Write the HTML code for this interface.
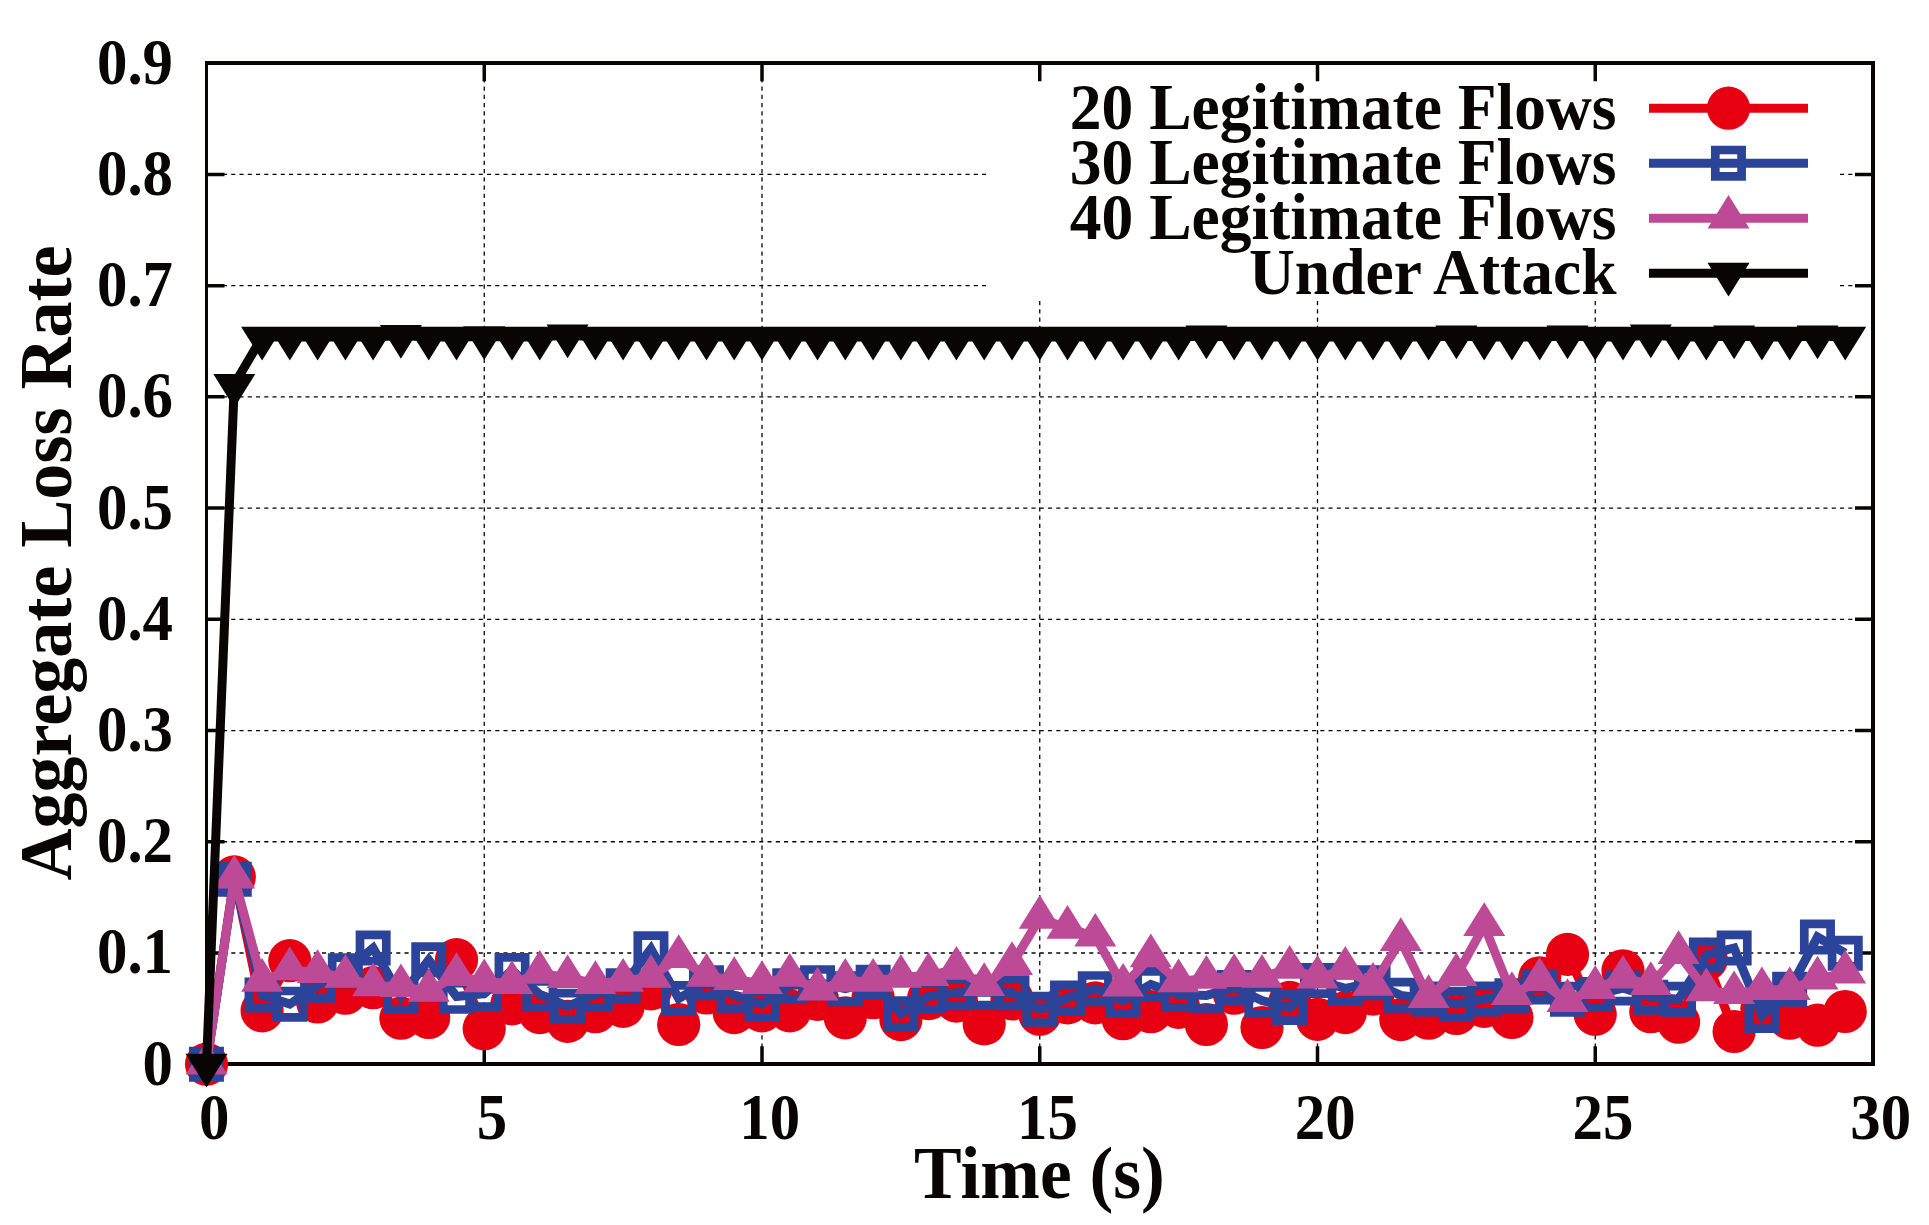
<!DOCTYPE html>
<html lang="en"><head><meta charset="utf-8"><title>Aggregate Loss Rate</title>
<style>html,body{margin:0;padding:0;background:#fff;overflow:hidden}svg{display:block}text{font-family:"Liberation Serif","Times New Roman",serif;font-weight:bold;fill:#0a0505}.tk{font-size:65px}.lg{font-size:66.5px}.ax{font-size:73.4px}</style></head><body>
<svg width="1929" height="1225" viewBox="0 0 1929 1225">
<rect width="1929" height="1225" fill="#fff"/>
<path d="M484.25 1064.20V63.20M762.00 1064.20V63.20M1039.75 1064.20V63.20M1317.50 1064.20V63.20M1595.25 1064.20V63.20M206.50 952.98H1873.00M206.50 841.76H1873.00M206.50 730.53H1873.00M206.50 619.31H1873.00M206.50 508.09H1873.00M206.50 396.87H1873.00M206.50 285.64H1873.00M206.50 174.42H1873.00" fill="none" stroke="#0a0505" stroke-width="1.3" stroke-dasharray="4.1 4.15"/>
<rect x="986.5" y="65.0" width="852.5" height="235.0" fill="#fff"/>
<path d="M484.25 1064.20v-18.00M484.25 63.20v18.00M762.00 1064.20v-18.00M762.00 63.20v18.00M1039.75 1064.20v-18.00M1039.75 63.20v18.00M1317.50 1064.20v-18.00M1317.50 63.20v18.00M1595.25 1064.20v-18.00M1595.25 63.20v18.00M206.50 952.98h18.00M1873.00 952.98h-18.00M206.50 841.76h18.00M1873.00 841.76h-18.00M206.50 730.53h18.00M1873.00 730.53h-18.00M206.50 619.31h18.00M1873.00 619.31h-18.00M206.50 508.09h18.00M1873.00 508.09h-18.00M206.50 396.87h18.00M1873.00 396.87h-18.00M206.50 285.64h18.00M1873.00 285.64h-18.00M206.50 174.42h18.00M1873.00 174.42h-18.00" fill="none" stroke="#0a0505" stroke-width="3.5"/>
<path fill="#0a0505" d="M205 61H1875V1066H205ZM208 65V1062H1871V65Z"/>
<text class="tk" transform="translate(173.0 1084.6) scale(0.936 1)" text-anchor="end">0</text>
<text class="tk" transform="translate(173.0 973.4) scale(0.936 1)" text-anchor="end">0.1</text>
<text class="tk" transform="translate(173.0 862.2) scale(0.936 1)" text-anchor="end">0.2</text>
<text class="tk" transform="translate(173.0 750.9) scale(0.936 1)" text-anchor="end">0.3</text>
<text class="tk" transform="translate(173.0 639.7) scale(0.936 1)" text-anchor="end">0.4</text>
<text class="tk" transform="translate(173.0 528.5) scale(0.936 1)" text-anchor="end">0.5</text>
<text class="tk" transform="translate(173.0 417.3) scale(0.936 1)" text-anchor="end">0.6</text>
<text class="tk" transform="translate(173.0 306.0) scale(0.936 1)" text-anchor="end">0.7</text>
<text class="tk" transform="translate(173.0 194.8) scale(0.936 1)" text-anchor="end">0.8</text>
<text class="tk" transform="translate(173.0 83.6) scale(0.936 1)" text-anchor="end">0.9</text>
<text class="tk" transform="translate(214.2 1139.0) scale(0.936 1)" text-anchor="middle">0</text>
<text class="tk" transform="translate(491.9 1139.0) scale(0.936 1)" text-anchor="middle">5</text>
<text class="tk" transform="translate(769.7 1139.0) scale(0.936 1)" text-anchor="middle">10</text>
<text class="tk" transform="translate(1047.5 1139.0) scale(0.936 1)" text-anchor="middle">15</text>
<text class="tk" transform="translate(1325.2 1139.0) scale(0.936 1)" text-anchor="middle">20</text>
<text class="tk" transform="translate(1603.0 1139.0) scale(0.936 1)" text-anchor="middle">25</text>
<text class="tk" transform="translate(1880.7 1139.0) scale(0.936 1)" text-anchor="middle">30</text>
<text class="ax" transform="translate(1039.5 1198.0) scale(0.974 1)" text-anchor="middle">Time (s)</text>
<text class="ax" transform="translate(71.0 563.0) rotate(-90) scale(0.982 1)" text-anchor="middle">Aggregate Loss Rate</text>
<polyline fill="none" stroke="#e60012" stroke-width="9.0" stroke-linejoin="miter" stroke-miterlimit="4" points="206.5,1064.2 234.3,876.9 262.1,1010.8 289.8,960.7 317.6,1002.0 345.4,993.2 373.1,987.7 400.9,1018.2 428.7,1017.5 456.5,959.7 484.2,1028.7 512.0,1003.8 539.8,1012.6 567.6,1021.4 595.4,1011.7 623.1,1006.4 650.9,988.9 678.7,1024.5 706.5,993.0 734.2,1012.6 762.0,1010.8 789.8,1010.8 817.5,999.4 845.3,1017.8 873.1,997.7 900.9,1019.6 928.6,998.6 956.4,1001.1 984.2,1023.9 1012.0,998.9 1039.8,1014.3 1067.5,1002.9 1095.3,1002.9 1123.1,1018.7 1150.8,1011.7 1178.6,1007.3 1206.4,1024.5 1234.2,993.2 1262.0,1027.5 1289.7,1002.4 1317.5,1019.3 1345.3,1012.6 1373.0,994.1 1400.8,1019.6 1428.6,1018.2 1456.4,1013.5 1484.2,1006.4 1511.9,1017.5 1539.7,977.8 1567.5,954.4 1595.2,1014.3 1623.0,970.8 1650.8,1011.7 1678.6,1022.2 1706.3,959.4 1734.1,1031.5 1761.9,1008.6 1789.7,1018.2 1817.5,1025.2 1845.2,1011.5"/>
<g fill="#e60012"><circle cx="206.5" cy="1064.2" r="21.6"/><circle cx="234.3" cy="876.9" r="21.6"/><circle cx="262.1" cy="1010.8" r="21.6"/><circle cx="289.8" cy="960.7" r="21.6"/><circle cx="317.6" cy="1002.0" r="21.6"/><circle cx="345.4" cy="993.2" r="21.6"/><circle cx="373.1" cy="987.7" r="21.6"/><circle cx="400.9" cy="1018.2" r="21.6"/><circle cx="428.7" cy="1017.5" r="21.6"/><circle cx="456.5" cy="959.7" r="21.6"/><circle cx="484.2" cy="1028.7" r="21.6"/><circle cx="512.0" cy="1003.8" r="21.6"/><circle cx="539.8" cy="1012.6" r="21.6"/><circle cx="567.6" cy="1021.4" r="21.6"/><circle cx="595.4" cy="1011.7" r="21.6"/><circle cx="623.1" cy="1006.4" r="21.6"/><circle cx="650.9" cy="988.9" r="21.6"/><circle cx="678.7" cy="1024.5" r="21.6"/><circle cx="706.5" cy="993.0" r="21.6"/><circle cx="734.2" cy="1012.6" r="21.6"/><circle cx="762.0" cy="1010.8" r="21.6"/><circle cx="789.8" cy="1010.8" r="21.6"/><circle cx="817.5" cy="999.4" r="21.6"/><circle cx="845.3" cy="1017.8" r="21.6"/><circle cx="873.1" cy="997.7" r="21.6"/><circle cx="900.9" cy="1019.6" r="21.6"/><circle cx="928.6" cy="998.6" r="21.6"/><circle cx="956.4" cy="1001.1" r="21.6"/><circle cx="984.2" cy="1023.9" r="21.6"/><circle cx="1012.0" cy="998.9" r="21.6"/><circle cx="1039.8" cy="1014.3" r="21.6"/><circle cx="1067.5" cy="1002.9" r="21.6"/><circle cx="1095.3" cy="1002.9" r="21.6"/><circle cx="1123.1" cy="1018.7" r="21.6"/><circle cx="1150.8" cy="1011.7" r="21.6"/><circle cx="1178.6" cy="1007.3" r="21.6"/><circle cx="1206.4" cy="1024.5" r="21.6"/><circle cx="1234.2" cy="993.2" r="21.6"/><circle cx="1262.0" cy="1027.5" r="21.6"/><circle cx="1289.7" cy="1002.4" r="21.6"/><circle cx="1317.5" cy="1019.3" r="21.6"/><circle cx="1345.3" cy="1012.6" r="21.6"/><circle cx="1373.0" cy="994.1" r="21.6"/><circle cx="1400.8" cy="1019.6" r="21.6"/><circle cx="1428.6" cy="1018.2" r="21.6"/><circle cx="1456.4" cy="1013.5" r="21.6"/><circle cx="1484.2" cy="1006.4" r="21.6"/><circle cx="1511.9" cy="1017.5" r="21.6"/><circle cx="1539.7" cy="977.8" r="21.6"/><circle cx="1567.5" cy="954.4" r="21.6"/><circle cx="1595.2" cy="1014.3" r="21.6"/><circle cx="1623.0" cy="970.8" r="21.6"/><circle cx="1650.8" cy="1011.7" r="21.6"/><circle cx="1678.6" cy="1022.2" r="21.6"/><circle cx="1706.3" cy="959.4" r="21.6"/><circle cx="1734.1" cy="1031.5" r="21.6"/><circle cx="1761.9" cy="1008.6" r="21.6"/><circle cx="1789.7" cy="1018.2" r="21.6"/><circle cx="1817.5" cy="1025.2" r="21.6"/><circle cx="1845.2" cy="1011.5" r="21.6"/></g>
<polyline fill="none" stroke="#2b4499" stroke-width="9.0" stroke-linejoin="miter" stroke-miterlimit="4" points="206.5,1064.2 234.3,879.1 262.1,995.0 289.8,1004.1 317.6,985.2 345.4,970.8 373.1,948.0 400.9,996.4 428.7,959.9 456.5,996.4 484.2,993.6 512.0,970.4 539.8,994.5 567.6,1006.3 595.4,994.5 623.1,985.7 650.9,948.9 678.7,998.5 706.5,982.7 734.2,995.4 762.0,1004.1 789.8,985.7 817.5,982.7 845.3,988.7 873.1,982.2 900.9,1013.8 928.6,996.4 956.4,992.7 984.2,991.9 1012.0,992.7 1039.8,1009.4 1067.5,998.0 1095.3,988.7 1123.1,1000.6 1150.8,984.5 1178.6,994.5 1206.4,995.4 1234.2,987.5 1262.0,1000.6 1289.7,1007.6 1317.5,980.4 1345.3,988.3 1373.0,982.7 1400.8,995.4 1428.6,998.9 1456.4,1004.1 1484.2,998.9 1511.9,995.7 1539.7,986.9 1567.5,999.2 1595.2,994.5 1623.0,988.0 1650.8,997.1 1678.6,999.2 1706.3,955.0 1734.1,948.0 1761.9,1015.5 1789.7,989.2 1817.5,937.1 1845.2,953.2"/>
<path fill="none" stroke="#2b4499" stroke-width="8.7" d="M193.3 1051.0h26.3v26.3h-26.3zM221.1 866.0h26.3v26.3h-26.3zM248.9 981.9h26.3v26.3h-26.3zM276.7 991.0h26.3v26.3h-26.3zM304.5 972.1h26.3v26.3h-26.3zM332.2 957.6h26.3v26.3h-26.3zM360.0 934.8h26.3v26.3h-26.3zM387.8 983.2h26.3v26.3h-26.3zM415.6 946.7h26.3v26.3h-26.3zM443.3 983.2h26.3v26.3h-26.3zM471.1 980.4h26.3v26.3h-26.3zM498.9 957.3h26.3v26.3h-26.3zM526.6 981.3h26.3v26.3h-26.3zM554.4 993.1h26.3v26.3h-26.3zM582.2 981.3h26.3v26.3h-26.3zM610.0 972.5h26.3v26.3h-26.3zM637.8 935.7h26.3v26.3h-26.3zM665.5 985.3h26.3v26.3h-26.3zM693.3 969.5h26.3v26.3h-26.3zM721.1 982.2h26.3v26.3h-26.3zM748.9 991.0h26.3v26.3h-26.3zM776.6 972.5h26.3v26.3h-26.3zM804.4 969.5h26.3v26.3h-26.3zM832.2 975.5h26.3v26.3h-26.3zM860.0 969.1h26.3v26.3h-26.3zM887.7 1000.7h26.3v26.3h-26.3zM915.5 983.2h26.3v26.3h-26.3zM943.3 979.5h26.3v26.3h-26.3zM971.1 978.8h26.3v26.3h-26.3zM998.8 979.5h26.3v26.3h-26.3zM1026.6 996.2h26.3v26.3h-26.3zM1054.4 984.9h26.3v26.3h-26.3zM1082.1 975.5h26.3v26.3h-26.3zM1109.9 987.4h26.3v26.3h-26.3zM1137.7 971.3h26.3v26.3h-26.3zM1165.5 981.3h26.3v26.3h-26.3zM1193.2 982.2h26.3v26.3h-26.3zM1221.0 974.3h26.3v26.3h-26.3zM1248.8 987.4h26.3v26.3h-26.3zM1276.6 994.4h26.3v26.3h-26.3zM1304.3 967.3h26.3v26.3h-26.3zM1332.1 975.2h26.3v26.3h-26.3zM1359.9 969.5h26.3v26.3h-26.3zM1387.7 982.2h26.3v26.3h-26.3zM1415.4 985.8h26.3v26.3h-26.3zM1443.2 991.0h26.3v26.3h-26.3zM1471.0 985.8h26.3v26.3h-26.3zM1498.8 982.5h26.3v26.3h-26.3zM1526.5 973.8h26.3v26.3h-26.3zM1554.3 986.1h26.3v26.3h-26.3zM1582.1 981.3h26.3v26.3h-26.3zM1609.9 974.9h26.3v26.3h-26.3zM1637.6 984.0h26.3v26.3h-26.3zM1665.4 986.1h26.3v26.3h-26.3zM1693.2 941.8h26.3v26.3h-26.3zM1721.0 934.8h26.3v26.3h-26.3zM1748.8 1002.3h26.3v26.3h-26.3zM1776.5 976.1h26.3v26.3h-26.3zM1804.3 923.9h26.3v26.3h-26.3zM1832.1 940.1h26.3v26.3h-26.3z"/>
<polyline fill="none" stroke="#bd4a96" stroke-width="9.0" stroke-linejoin="miter" stroke-miterlimit="4" points="206.5,1064.2 234.3,878.0 262.1,981.3 289.8,969.8 317.6,972.6 345.4,977.3 373.1,985.8 400.9,986.7 428.7,991.3 456.5,975.6 484.2,981.8 512.0,983.5 539.8,973.3 567.6,977.7 595.4,983.5 623.1,981.3 650.9,977.3 678.7,957.5 706.5,976.4 734.2,979.6 762.0,983.5 789.8,976.4 817.5,990.0 845.3,981.3 873.1,981.3 900.9,977.3 928.6,975.6 956.4,969.4 984.2,985.6 1012.0,964.5 1039.8,918.3 1067.5,928.3 1095.3,936.2 1123.1,986.2 1150.8,956.9 1178.6,981.8 1206.4,978.3 1234.2,976.6 1262.0,977.4 1289.7,968.3 1317.5,978.2 1345.3,969.4 1373.0,985.3 1400.8,940.5 1428.6,997.6 1456.4,975.7 1484.2,925.6 1511.9,994.5 1539.7,980.6 1567.5,1001.5 1595.2,988.5 1623.0,978.2 1650.8,984.5 1678.6,953.6 1706.3,990.9 1734.1,993.7 1761.9,989.7 1789.7,989.7 1817.5,979.1 1845.2,973.0"/>
<path fill="#bd4a96" d="M206.5 1040.9l21.0 33.7h-42.0zM234.3 854.7l21.0 33.7h-42.0zM262.1 958.0l21.0 33.7h-42.0zM289.8 946.5l21.0 33.7h-42.0zM317.6 949.3l21.0 33.7h-42.0zM345.4 954.0l21.0 33.7h-42.0zM373.1 962.5l21.0 33.7h-42.0zM400.9 963.4l21.0 33.7h-42.0zM428.7 968.0l21.0 33.7h-42.0zM456.5 952.3l21.0 33.7h-42.0zM484.2 958.5l21.0 33.7h-42.0zM512.0 960.2l21.0 33.7h-42.0zM539.8 950.0l21.0 33.7h-42.0zM567.6 954.4l21.0 33.7h-42.0zM595.4 960.2l21.0 33.7h-42.0zM623.1 958.0l21.0 33.7h-42.0zM650.9 954.0l21.0 33.7h-42.0zM678.7 934.2l21.0 33.7h-42.0zM706.5 953.1l21.0 33.7h-42.0zM734.2 956.3l21.0 33.7h-42.0zM762.0 960.2l21.0 33.7h-42.0zM789.8 953.1l21.0 33.7h-42.0zM817.5 966.7l21.0 33.7h-42.0zM845.3 958.0l21.0 33.7h-42.0zM873.1 958.0l21.0 33.7h-42.0zM900.9 954.0l21.0 33.7h-42.0zM928.6 952.3l21.0 33.7h-42.0zM956.4 946.1l21.0 33.7h-42.0zM984.2 962.3l21.0 33.7h-42.0zM1012.0 941.2l21.0 33.7h-42.0zM1039.8 895.0l21.0 33.7h-42.0zM1067.5 905.0l21.0 33.7h-42.0zM1095.3 912.9l21.0 33.7h-42.0zM1123.1 962.9l21.0 33.7h-42.0zM1150.8 933.6l21.0 33.7h-42.0zM1178.6 958.5l21.0 33.7h-42.0zM1206.4 955.0l21.0 33.7h-42.0zM1234.2 953.3l21.0 33.7h-42.0zM1262.0 954.1l21.0 33.7h-42.0zM1289.7 945.0l21.0 33.7h-42.0zM1317.5 954.9l21.0 33.7h-42.0zM1345.3 946.1l21.0 33.7h-42.0zM1373.0 962.0l21.0 33.7h-42.0zM1400.8 917.2l21.0 33.7h-42.0zM1428.6 974.3l21.0 33.7h-42.0zM1456.4 952.4l21.0 33.7h-42.0zM1484.2 902.3l21.0 33.7h-42.0zM1511.9 971.2l21.0 33.7h-42.0zM1539.7 957.3l21.0 33.7h-42.0zM1567.5 978.2l21.0 33.7h-42.0zM1595.2 965.2l21.0 33.7h-42.0zM1623.0 954.9l21.0 33.7h-42.0zM1650.8 961.2l21.0 33.7h-42.0zM1678.6 930.3l21.0 33.7h-42.0zM1706.3 967.6l21.0 33.7h-42.0zM1734.1 970.4l21.0 33.7h-42.0zM1761.9 966.4l21.0 33.7h-42.0zM1789.7 966.4l21.0 33.7h-42.0zM1817.5 955.8l21.0 33.7h-42.0zM1845.2 949.7l21.0 33.7h-42.0z"/>
<polyline fill="none" stroke="#0a0505" stroke-width="9.0" stroke-linejoin="miter" stroke-miterlimit="4" points="206.5,1064.2 234.3,384.4 262.1,337.1 289.8,337.1 317.6,337.1 345.4,337.1 373.1,337.1 400.9,335.5 428.7,337.1 456.5,337.1 484.2,336.6 512.0,337.1 539.8,337.1 567.6,334.9 595.4,337.1 623.1,337.1 650.9,337.1 678.7,337.1 706.5,337.1 734.2,337.1 762.0,337.1 789.8,337.1 817.5,337.1 845.3,337.1 873.1,337.1 900.9,337.1 928.6,337.1 956.4,337.1 984.2,337.1 1012.0,337.1 1039.8,337.1 1067.5,337.1 1095.3,337.1 1123.1,337.1 1150.8,337.1 1178.6,337.1 1206.4,336.0 1234.2,337.1 1262.0,337.1 1289.7,337.1 1317.5,337.1 1345.3,337.1 1373.0,337.1 1400.8,337.1 1428.6,337.1 1456.4,336.0 1484.2,337.1 1511.9,337.1 1539.7,337.1 1567.5,336.0 1595.2,337.1 1623.0,337.1 1650.8,334.9 1678.6,337.1 1706.3,337.1 1734.1,336.0 1761.9,337.1 1789.7,337.1 1817.5,336.0 1845.2,337.1"/>
<path fill="#0a0505" d="M206.5 1087.5l21.0 -33.7h-42.0zM234.3 407.7l21.0 -33.7h-42.0zM262.1 360.4l21.0 -33.7h-42.0zM289.8 360.4l21.0 -33.7h-42.0zM317.6 360.4l21.0 -33.7h-42.0zM345.4 360.4l21.0 -33.7h-42.0zM373.1 360.4l21.0 -33.7h-42.0zM400.9 358.8l21.0 -33.7h-42.0zM428.7 360.4l21.0 -33.7h-42.0zM456.5 360.4l21.0 -33.7h-42.0zM484.2 359.9l21.0 -33.7h-42.0zM512.0 360.4l21.0 -33.7h-42.0zM539.8 360.4l21.0 -33.7h-42.0zM567.6 358.2l21.0 -33.7h-42.0zM595.4 360.4l21.0 -33.7h-42.0zM623.1 360.4l21.0 -33.7h-42.0zM650.9 360.4l21.0 -33.7h-42.0zM678.7 360.4l21.0 -33.7h-42.0zM706.5 360.4l21.0 -33.7h-42.0zM734.2 360.4l21.0 -33.7h-42.0zM762.0 360.4l21.0 -33.7h-42.0zM789.8 360.4l21.0 -33.7h-42.0zM817.5 360.4l21.0 -33.7h-42.0zM845.3 360.4l21.0 -33.7h-42.0zM873.1 360.4l21.0 -33.7h-42.0zM900.9 360.4l21.0 -33.7h-42.0zM928.6 360.4l21.0 -33.7h-42.0zM956.4 360.4l21.0 -33.7h-42.0zM984.2 360.4l21.0 -33.7h-42.0zM1012.0 360.4l21.0 -33.7h-42.0zM1039.8 360.4l21.0 -33.7h-42.0zM1067.5 360.4l21.0 -33.7h-42.0zM1095.3 360.4l21.0 -33.7h-42.0zM1123.1 360.4l21.0 -33.7h-42.0zM1150.8 360.4l21.0 -33.7h-42.0zM1178.6 360.4l21.0 -33.7h-42.0zM1206.4 359.3l21.0 -33.7h-42.0zM1234.2 360.4l21.0 -33.7h-42.0zM1262.0 360.4l21.0 -33.7h-42.0zM1289.7 360.4l21.0 -33.7h-42.0zM1317.5 360.4l21.0 -33.7h-42.0zM1345.3 360.4l21.0 -33.7h-42.0zM1373.0 360.4l21.0 -33.7h-42.0zM1400.8 360.4l21.0 -33.7h-42.0zM1428.6 360.4l21.0 -33.7h-42.0zM1456.4 359.3l21.0 -33.7h-42.0zM1484.2 360.4l21.0 -33.7h-42.0zM1511.9 360.4l21.0 -33.7h-42.0zM1539.7 360.4l21.0 -33.7h-42.0zM1567.5 359.3l21.0 -33.7h-42.0zM1595.2 360.4l21.0 -33.7h-42.0zM1623.0 360.4l21.0 -33.7h-42.0zM1650.8 358.2l21.0 -33.7h-42.0zM1678.6 360.4l21.0 -33.7h-42.0zM1706.3 360.4l21.0 -33.7h-42.0zM1734.1 359.3l21.0 -33.7h-42.0zM1761.9 360.4l21.0 -33.7h-42.0zM1789.7 360.4l21.0 -33.7h-42.0zM1817.5 359.3l21.0 -33.7h-42.0zM1845.2 360.4l21.0 -33.7h-42.0z"/>
<text class="lg" transform="translate(1616.5 129.1) scale(0.955 1)" text-anchor="end">20 Legitimate Flows</text>
<path d="M1649.0 108.2H1808.0" stroke="#e60012" stroke-width="9.0" fill="none"/>
<g fill="#e60012"><circle cx="1728.5" cy="108.2" r="21.6"/></g>
<text class="lg" transform="translate(1616.5 184.1) scale(0.955 1)" text-anchor="end">30 Legitimate Flows</text>
<path d="M1649.0 163.2H1808.0" stroke="#2b4499" stroke-width="9.0" fill="none"/>
<path fill="none" stroke="#2b4499" stroke-width="8.7" d="M1715.3 150.0h26.3v26.3h-26.3z"/>
<text class="lg" transform="translate(1616.5 239.1) scale(0.955 1)" text-anchor="end">40 Legitimate Flows</text>
<path d="M1649.0 218.2H1808.0" stroke="#bd4a96" stroke-width="9.0" fill="none"/>
<path fill="#bd4a96" d="M1728.5 194.9l21.0 33.7h-42.0z"/>
<text class="lg" transform="translate(1616.5 294.1) scale(0.955 1)" text-anchor="end">Under Attack</text>
<path d="M1649.0 273.2H1808.0" stroke="#0a0505" stroke-width="9.0" fill="none"/>
<path fill="#0a0505" d="M1728.5 296.5l21.0 -33.7h-42.0z"/>
</svg></body></html>
